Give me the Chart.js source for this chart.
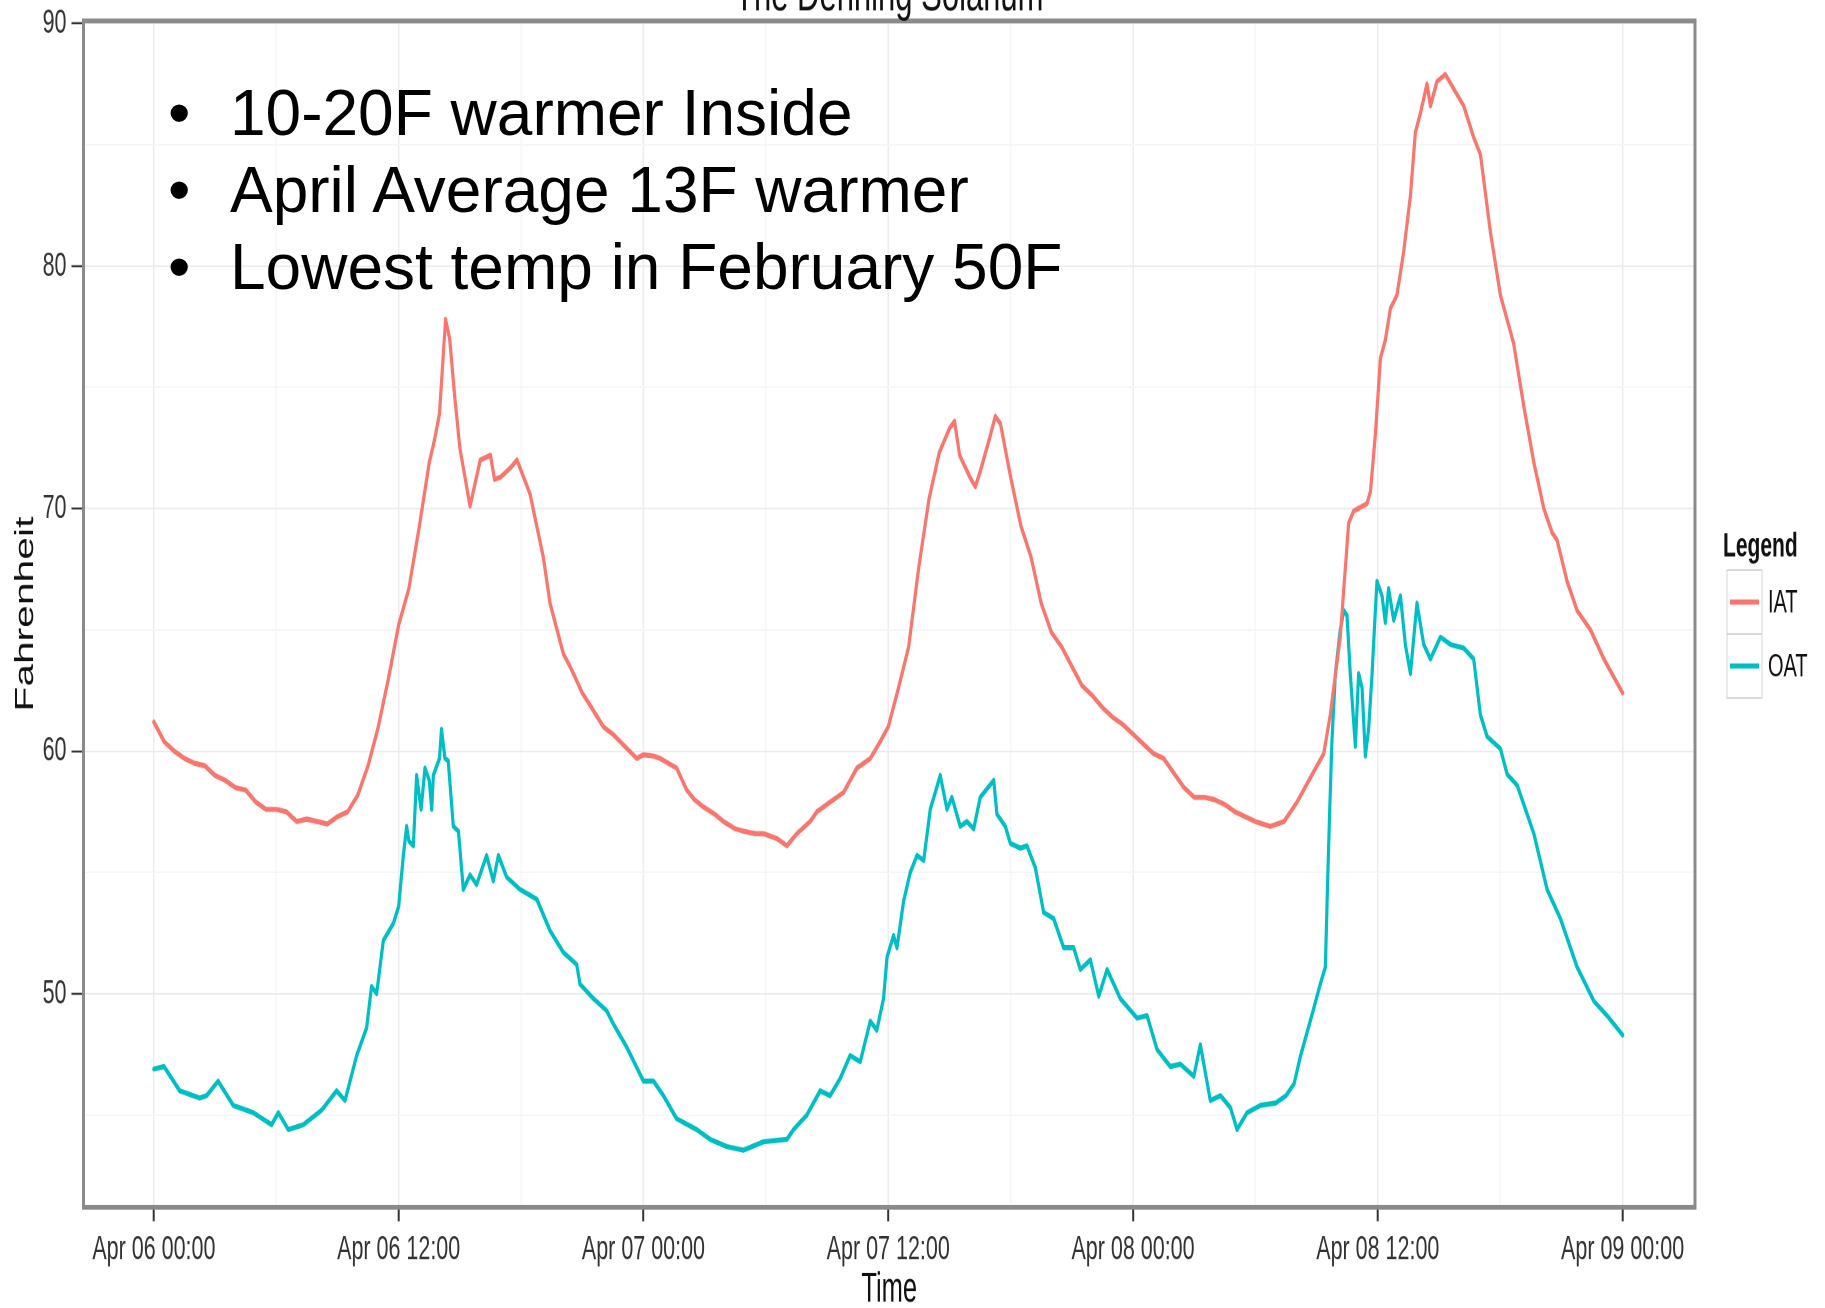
<!DOCTYPE html>
<html>
<head>
<meta charset="utf-8">
<title>The Denning Solarium</title>
<script src="https://cdn.jsdelivr.net/npm/chart.js@4.4.1/dist/chart.umd.min.js"></script>
<style>
  html, body { margin: 0; padding: 0; background: #fff; }
  body { width: 1825px; height: 1308px; position: relative; overflow: hidden; }
  /* the ggplot picture is stretched vertically in the original, so the canvas is too */
  #stretch { position: absolute; left: 0; top: 0; width: 1825px; height: 818px;
             transform: scaleY(1.599); transform-origin: 0 0; }
  #notes { position: absolute; left: 0; top: 75.4px; font-family: "Liberation Sans", Arial, sans-serif;
           font-size: 64px; line-height: 76.8px; color: #000; }
  .row { position: relative; height: 76.8px; white-space: nowrap; }
  .dot { position: absolute; left: 168px; }
  .txt { position: absolute; left: 230px; }
</style>
</head>
<body>
<div id="stretch"><canvas id="grafico"></canvas></div>
<div id="notes"></div>

<script>
// hours since Apr 06 00:00, temperature in F
const iatReadings = [
  [0, 61.2], [0.5, 60.4], [1, 60.0], [1.5, 59.7], [2, 59.5], [2.5, 59.4], [3, 59.0], [3.5, 58.8],
  [4, 58.5], [4.5, 58.4], [5, 57.9], [5.5, 57.6], [6, 57.6], [6.5, 57.5], [7, 57.1], [7.5, 57.2],
  [8, 57.1], [8.5, 57.0], [9, 57.3], [9.5, 57.5], [10, 58.2], [10.5, 59.4], [11, 61.0], [11.5, 63.0],
  [12, 65.2], [12.5, 66.7], [13, 69.2], [13.5, 71.9], [13.75, 72.8], [14, 73.9], [14.3, 77.8], [14.5, 77.0],
  [14.75, 74.6], [15, 72.5], [15.5, 70.1], [16, 72.0], [16.5, 72.2], [16.7, 71.2], [17, 71.3], [17.5, 71.7],
  [17.8, 72.0], [18.44, 70.6], [19.09, 68.0], [19.42, 66.1], [20.08, 64.0], [20.4, 63.5], [21, 62.4], [21.38, 61.9],
  [22.04, 61.0], [22.5, 60.7], [22.85, 60.4], [23.67, 59.7], [24, 59.85], [24.5, 59.8], [24.82, 59.7], [25.63, 59.3],
  [26.12, 58.4], [26.5, 58.0], [26.94, 57.7], [27.5, 57.4], [27.92, 57.1], [28.5, 56.8], [28.9, 56.7], [29.5, 56.6],
  [29.88, 56.6], [30.54, 56.4], [31.03, 56.1], [31.52, 56.6], [32.17, 57.1], [32.5, 57.5], [33.15, 57.9], [33.81, 58.3],
  [34.46, 59.3], [35.12, 59.7], [35.61, 60.4], [36, 61.0], [36.5, 62.6], [37, 64.3], [37.5, 67.6], [38, 70.4],
  [38.5, 72.3], [39, 73.3], [39.25, 73.6], [39.5, 72.2], [40, 71.3], [40.27, 70.9], [40.5, 71.5], [41, 73.0],
  [41.25, 73.8], [41.5, 73.5], [42, 71.3], [42.5, 69.3], [43, 68.0], [43.5, 66.1], [44, 64.9], [44.5, 64.3],
  [45, 63.5], [45.5, 62.7], [46, 62.3], [46.5, 61.8], [47, 61.4], [47.5, 61.1], [48, 60.7], [48.5, 60.3],
  [49, 59.9], [49.5, 59.7], [50, 59.1], [50.5, 58.5], [51, 58.1], [51.5, 58.1], [52, 58.0], [52.5, 57.8],
  [53, 57.5], [53.5, 57.3], [54, 57.1], [54.73, 56.9], [55.4, 57.1], [56.04, 57.9], [56.69, 58.9], [57.35, 59.9],
  [57.67, 61.5], [58.16, 64.7], [58.57, 69.4], [58.82, 69.9], [59.47, 70.2], [59.64, 70.7], [59.88, 73.05], [60.13, 76.2],
  [60.37, 76.95], [60.62, 78.25], [60.94, 78.8], [61.27, 80.6], [61.6, 82.9], [61.84, 85.5], [62.09, 86.3], [62.41, 87.5],
  [62.58, 86.6], [62.9, 87.6], [63.31, 87.9], [63.72, 87.3], [64.21, 86.6], [64.7, 85.3], [65.03, 84.6], [65.52, 81.4],
  [66.01, 78.8], [66.66, 76.8], [67.16, 74.2], [67.65, 71.9], [68.14, 70.0], [68.55, 69.0], [68.79, 68.7], [69.28, 67.0],
  [69.77, 65.8], [70.43, 65.0], [71.08, 63.8], [72, 62.4]
];

const oatReadings = [
  [0, 46.9], [0.5, 47.0], [1.27, 46.0], [2.25, 45.7], [2.58, 45.8], [3.15, 46.4], [3.89, 45.4], [4.87, 45.1],
  [5.77, 44.6], [6.1, 45.1], [6.59, 44.4], [7.32, 44.6], [8.22, 45.2], [8.96, 46.0], [9.37, 45.6], [9.94, 47.45],
  [10.43, 48.6], [10.67, 50.3], [10.92, 50.0], [11.25, 52.2], [11.74, 52.9], [12, 53.6], [12.23, 55.7], [12.39, 56.9],
  [12.5, 56.3], [12.72, 56.1], [12.88, 59.0], [13.1, 57.6], [13.29, 59.3], [13.5, 58.8], [13.62, 57.6], [13.7, 59.0],
  [14, 59.7], [14.1, 60.9], [14.27, 59.7], [14.43, 59.6], [14.68, 56.9], [14.93, 56.7], [15.17, 54.3], [15.5, 54.9],
  [15.82, 54.5], [16.31, 55.7], [16.64, 54.65], [16.89, 55.7], [17.3, 54.8], [17.95, 54.3], [18.77, 53.9], [19.42, 52.6],
  [20.08, 51.7], [20.73, 51.2], [20.89, 50.4], [21.55, 49.8], [22.2, 49.3], [22.53, 48.75], [23.18, 47.8], [24, 46.4],
  [24.49, 46.4], [24.98, 45.8], [25.63, 44.85], [26.61, 44.4], [27.27, 44.0], [28.09, 43.7], [28.9, 43.55], [29.88, 43.9],
  [31.03, 44.0], [31.36, 44.4], [32.01, 45.0], [32.66, 46.0], [33.15, 45.8], [33.64, 46.5], [34.13, 47.45], [34.63, 47.2],
  [35.12, 48.87], [35.44, 48.5], [35.77, 49.8], [35.94, 51.5], [36.26, 52.4], [36.43, 51.9], [36.75, 53.8], [37.08, 55.0],
  [37.41, 55.7], [37.74, 55.5], [38.06, 57.6], [38.55, 59.0], [38.88, 57.6], [39.12, 58.1], [39.53, 56.9], [39.86, 57.1],
  [40.19, 56.8], [40.51, 58.1], [41.17, 58.8], [41.33, 57.4], [41.74, 56.9], [41.99, 56.2], [42.48, 56.0], [42.8, 56.1],
  [43.21, 55.2], [43.62, 53.35], [44.11, 53.1], [44.6, 51.9], [45.09, 51.9], [45.42, 51.0], [45.91, 51.4], [46.32, 49.9],
  [46.73, 51.0], [47.38, 49.8], [48.2, 49.0], [48.69, 49.1], [49.18, 47.7], [49.83, 47.0], [50.32, 47.1], [50.98, 46.6],
  [51.3, 47.9], [51.79, 45.6], [52.29, 45.8], [52.78, 45.3], [53.1, 44.4], [53.59, 45.1], [54.25, 45.4], [55, 45.5],
  [55.5, 45.8], [55.9, 46.3], [56.2, 47.4], [56.86, 49.4], [57.18, 50.4], [57.43, 51.1], [57.54, 54.6], [57.64, 57.5],
  [57.75, 60.4], [57.92, 63.2], [58.16, 65.0], [58.33, 65.8], [58.49, 65.6], [58.65, 63.2], [58.9, 60.2], [59.06, 63.2],
  [59.23, 62.6], [59.39, 59.8], [59.55, 60.9], [59.72, 63.2], [59.88, 65.8], [59.96, 67.0], [60.21, 66.4], [60.37, 65.3],
  [60.53, 66.7], [60.78, 65.4], [61.11, 66.4], [61.35, 64.4], [61.6, 63.2], [61.92, 66.1], [62.25, 64.4], [62.58, 63.8],
  [63.07, 64.7], [63.56, 64.4], [64.21, 64.25], [64.7, 63.8], [65.03, 61.5], [65.36, 60.6], [66.01, 60.1], [66.34, 59.05],
  [66.83, 58.6], [67.65, 56.6], [68.3, 54.3], [68.95, 53.1], [69.77, 51.1], [70.59, 49.7], [71.24, 49.1], [72, 48.3]
];

const seriesNames = ['IAT', 'OAT'];
const seriesColors = ['#F8766D', '#00BFC4'];
const tickLabels = ['Apr 06 00:00', 'Apr 06 12:00', 'Apr 07 00:00', 'Apr 07 12:00',
                    'Apr 08 00:00', 'Apr 08 12:00', 'Apr 09 00:00'];
const notas = ['10-20F warmer Inside', 'April Average 13F warmer', 'Lowest temp in February 50F'];
const plotTitle = 'The Denning Solarium';

const FONT = '"Liberation Sans", Arial, Helvetica, sans-serif';

// bullet notes pasted over the plot
const notesBox = document.getElementById('notes');
notas.forEach(t => {
  const row = document.createElement('div');
  row.className = 'row';
  row.innerHTML = `<span class="dot">\u2022</span><span class="txt">${t}</span>`;
  notesBox.appendChild(row);
});

// panel border, clipped title and ggplot style legend
const ggDecor = {
  id: 'ggDecor',
  afterDraw(chart) {
    const { ctx, chartArea: a } = chart;
    ctx.save();
    ctx.strokeStyle = '#8a8a8a';
    ctx.lineWidth = 3;
    ctx.strokeRect(a.left, a.top, a.right - a.left, a.bottom - a.top);

    ctx.fillStyle = '#111';
    ctx.font = '31px ' + FONT;
    ctx.textAlign = 'center';
    ctx.textBaseline = 'alphabetic';
    ctx.fillText(plotTitle, (a.left + a.right) / 2, 6.5);

    ctx.textAlign = 'left';
    ctx.font = 'bold 21px ' + FONT;
    ctx.fillText('Legend', 1723, 348);

    seriesNames.forEach((name, i) => {
      const top = 356.5 + i * 40;
      ctx.fillStyle = '#fff';
      ctx.fillRect(1727, top, 35, 40);
      ctx.strokeStyle = '#d6d6d6';
      ctx.lineWidth = 1;
      ctx.strokeRect(1727, top, 35, 40);
      ctx.strokeStyle = seriesColors[i];
      ctx.lineWidth = 3.2;
      ctx.beginPath();
      ctx.moveTo(1730, top + 20);
      ctx.lineTo(1759, top + 20);
      ctx.stroke();
      ctx.fillStyle = '#111';
      ctx.font = '20px ' + FONT;
      ctx.textBaseline = 'middle';
      ctx.fillText(name, 1768, top + 21);
      ctx.textBaseline = 'alphabetic';
    });
    ctx.restore();
  }
};

document.addEventListener('DOMContentLoaded', () => {
  const ctx = document.getElementById('grafico').getContext('2d');
  new Chart(ctx, {
    type: 'line',
    data: {
      datasets: [iatReadings, oatReadings].map((serie, i) => ({
        label: seriesNames[i],
        data: serie.map(([h, t]) => ({ x: h, y: t })),
        borderColor: seriesColors[i],
        backgroundColor: seriesColors[i],
        borderWidth: 3.2,
        pointRadius: 0,
        tension: 0,
        borderJoinStyle: 'round',
        borderCapStyle: 'round'
      }))
    },
    options: {
      responsive: true,
      maintainAspectRatio: false,
      animation: false,
      devicePixelRatio: 2,
      layout: { padding: { left: 0, right: 130, top: 13.1, bottom: 0 } },
      plugins: {
        legend: { display: false },
        title: { display: false },
        tooltip: { enabled: false }
      },
      scales: {
        x: {
          type: 'linear',
          min: -3.45,
          max: 75.55,
          afterFit: s => { s.height = 63; s.paddingLeft = 0; s.paddingRight = 0; },
          border: { display: false },
          grid: {
            color: c => (c.tick && c.tick.value % 12 === 0) ? '#ebebeb' : '#f6f6f6',
            lineWidth: 1.4,
            tickLength: 8.75,
            tickWidth: 2,
            tickColor: c => (c.tick && c.tick.value % 12 === 0) ? '#333' : 'rgba(0,0,0,0)'
          },
          ticks: {
            stepSize: 6,
            includeBounds: false,
            autoSkip: false,
            maxRotation: 0,
            padding: 5,
            color: '#333',
            font: { family: FONT, size: 21.5 },
            callback: v => v % 12 === 0 ? tickLabels[v / 12] : ''
          },
          title: {
            display: true,
            text: 'Time',
            color: '#111',
            font: { family: FONT, size: 25.5, lineHeight: 1 },
            padding: { top: 0, bottom: -1.5 }
          }
        },
        y: {
          min: 41.2,
          max: 90.1,
          afterFit: s => { s.width = 83.5; s.paddingTop = 0; s.paddingBottom = 0; },
          border: { display: false },
          grid: {
            color: c => (c.tick && c.tick.value % 10 === 0) ? '#ebebeb' : '#f6f6f6',
            lineWidth: 1,
            tickLength: 12,
            tickWidth: 1.3,
            tickColor: c => (c.tick && c.tick.value % 10 === 0) ? '#333' : 'rgba(0,0,0,0)'
          },
          ticks: {
            stepSize: 5,
            includeBounds: false,
            autoSkip: false,
            padding: 5,
            color: '#333',
            font: { family: FONT, size: 21.5 },
            callback: v => v % 10 === 0 ? String(v) : ''
          },
          title: {
            display: true,
            text: 'Fahrenheit',
            color: '#111',
            font: { family: FONT, size: 25.5, lineHeight: 1 },
            padding: { top: 13.25, bottom: 0 }
          }
        }
      }
    },
    plugins: [ggDecor]
  });
});
</script>
</body>
</html>
